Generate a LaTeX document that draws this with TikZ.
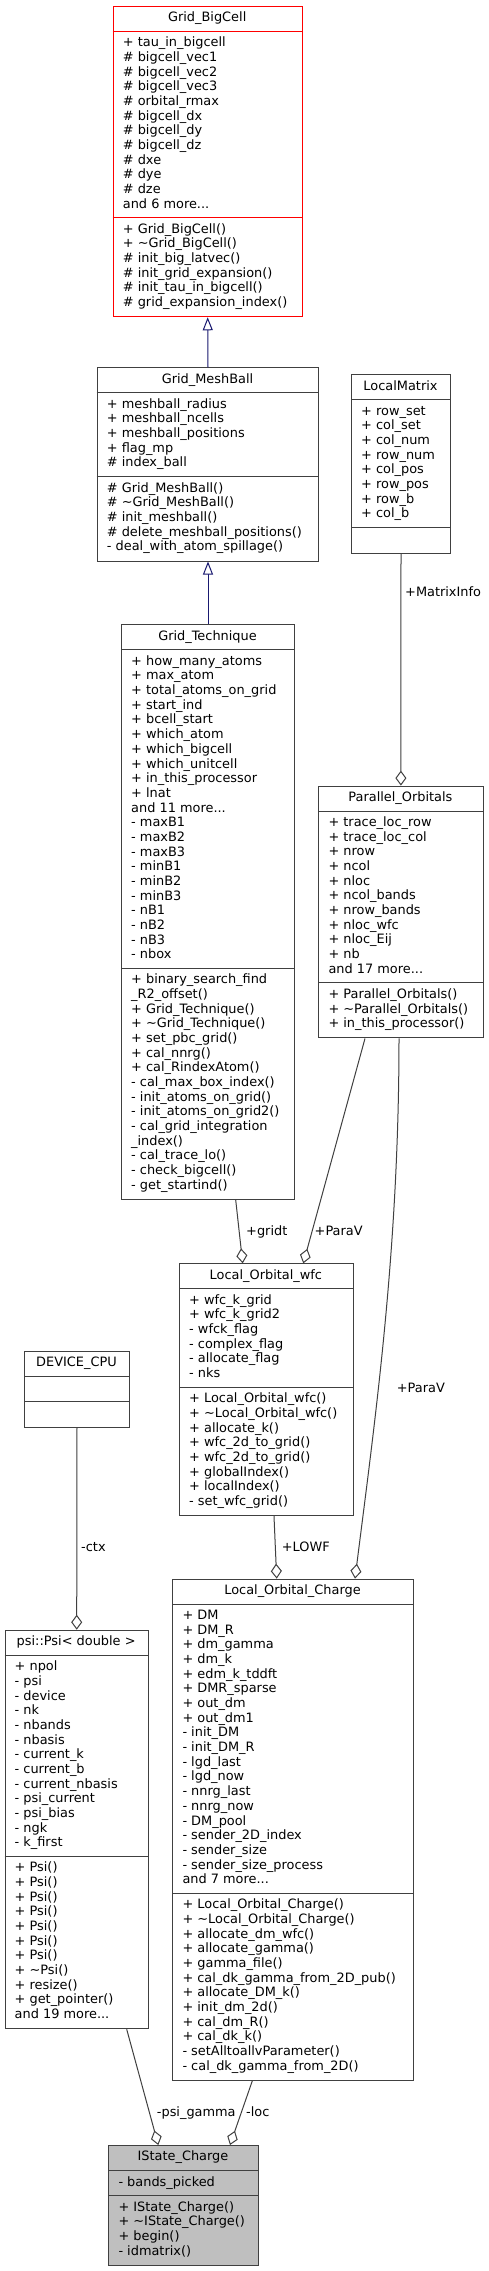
\documentclass[tikz,border=0pt]{standalone}
\usepackage{fontspec}
\setmainfont{DejaVu Sans}
\usetikzlibrary{arrows.meta,calc}
\definecolor{edgec}{HTML}{404040}
\definecolor{boxc}{HTML}{404040}
\definecolor{inhc}{HTML}{191970}
\definecolor{curfill}{HTML}{BFBFBF}
\definecolor{redc}{HTML}{FF0000}
\newcommand{\LH}{14.67}
\DeclareRobustCommand{\mdots}{.{}.{}.}
\tikzset{
  umlbox/.style={rectangle, inner sep=0pt, line width=1pt},
  umltxt/.style={inner sep=0pt, font=\fontsize{12.9}{14.67}\selectfont, text=black},
  elabel/.style={umltxt, anchor=base west},
  aggr/.style={draw=edgec, line width=1pt, -{Diamond[fill=white, length=15pt, width=11pt]}},
  inh/.style={draw=inhc, line width=1pt, -{Triangle[fill=white, length=13pt, width=10pt]}}
}
% #1 name, #2 draw colour, #3 fill, #4 left, #5 top, #6 width, #7 n attr, #8 n meth, #9 title
\newcommand{\umlclass}[9]{%
  \pgfmathsetmacro{\umlha}{max(#7,1)*\LH+10.5}%
  \pgfmathsetmacro{\umlhm}{max(#8,1)*\LH+10.5}%
  \pgfmathsetmacro{\umlht}{25.5+\umlha+\umlhm}%
  \node[umlbox, draw=#2, fill=#3, minimum width=#6, minimum height=\umlht, anchor=north west] (#1) at (#4,#5) {};
  \coordinate (#1-a) at (#4,#5+25.5);
  \coordinate (#1-m) at (#4,#5+25.5+\umlha);
  \draw[draw=#2, line width=1pt] (#1-a) -- ++(#6,0) (#1-m) -- ++(#6,0);
  \node[umltxt, anchor=base] (#1-title) at (#4+#6/2,#5+15.8) {#9};
}
\newcommand{\umllines}[2]{%
  \foreach \s [count=\k from 0] in {#2} {%
    \node[umltxt, anchor=base west] (#1-\k) at ($(#1)+(10,15.5+\k*\LH)$) {\s};
  }%
}
\begin{document}
\begin{tikzpicture}[x=1pt,y=-1pt]
\fill[white] (0,0) rectangle (489,2271);
\useasboundingbox (0,0) rectangle (489,2271);

\umlclass{bigcell}{redc}{white}{112.7}{5.7}{189}{12}{6}{Grid\_BigCell}
\umllines{bigcell-a}{+ tau\_in\_bigcell, \# bigcell\_vec1, \# bigcell\_vec2, \# bigcell\_vec3, \# orbital\_rmax, \# bigcell\_dx, \# bigcell\_dy, \# bigcell\_dz, \# dxe, \# dye, \# dze, and 6 more\mdots}
\umllines{bigcell-m}{+ Grid\_BigCell(), + \textasciitilde Grid\_BigCell(), \# init\_big\_latvec(), \# init\_grid\_expansion(), \# init\_tau\_in\_bigcell(), \# grid\_expansion\_index()}

\umlclass{mesh}{boxc}{white}{96.7}{367.3}{221.6}{5}{5}{Grid\_MeshBall}
\umllines{mesh-a}{+ meshball\_radius, + meshball\_ncells, + meshball\_positions, + flag\_mp, \# index\_ball}
\umllines{mesh-m}{\# Grid\_MeshBall(), \# \textasciitilde Grid\_MeshBall(), \# init\_meshball(), \# delete\_meshball\_positions(), - deal\_with\_atom\_spillage()}

\umlclass{lm}{boxc}{white}{351}{374.3}{99}{8}{0}{LocalMatrix}
\umllines{lm-a}{+ row\_set, + col\_set, + col\_num, + row\_num, + col\_pos, + row\_pos, + row\_b, + col\_b}

\umlclass{gt}{boxc}{white}{121}{624.3}{173}{21}{15}{Grid\_Technique}
\umllines{gt-a}{+ how\_many\_atoms, + max\_atom, + total\_atoms\_on\_grid, + start\_ind, + bcell\_start, + which\_atom, + which\_bigcell, + which\_unitcell, + in\_this\_processor, + lnat, and 11 more\mdots, - maxB1, - maxB2, - maxB3, - minB1, - minB2, - minB3, - nB1, - nB2, - nB3, - nbox}
\umllines{gt-m}{+ binary\_search\_find, \_R2\_offset(), + Grid\_Technique(), + \textasciitilde Grid\_Technique(), + set\_pbc\_grid(), + cal\_nnrg(), + cal\_RindexAtom(), - cal\_max\_box\_index(), - init\_atoms\_on\_grid(), - init\_atoms\_on\_grid2(), - cal\_grid\_integration, \_index(), - cal\_trace\_lo(), - check\_bigcell(), - get\_startind()}

\umlclass{po}{boxc}{white}{318.3}{785.6}{164.2}{11}{3}{Parallel\_Orbitals}
\umllines{po-a}{+ trace\_loc\_row, + trace\_loc\_col, + nrow, + ncol, + nloc, + ncol\_bands, + nrow\_bands, + nloc\_wfc, + nloc\_Eij, + nb, and 17 more\mdots}
\umllines{po-m}{+ Parallel\_Orbitals(), + \textasciitilde Parallel\_Orbitals(), + in\_this\_processor()}

\umlclass{lowf}{boxc}{white}{179}{1263.3}{173.7}{6}{8}{Local\_Orbital\_wfc}
\umllines{lowf-a}{+ wfc\_k\_grid, + wfc\_k\_grid2, - wfck\_flag, - complex\_flag, - allocate\_flag, - nks}
\umllines{lowf-m}{+ Local\_Orbital\_wfc(), + \textasciitilde Local\_Orbital\_wfc(), + allocate\_k(), + wfc\_2d\_to\_grid(), + wfc\_2d\_to\_grid(), + globalIndex(), + localIndex(), - set\_wfc\_grid()}

\umlclass{dev}{boxc}{white}{24.3}{1351}{104.4}{0}{0}{DEVICE\_CPU}

\umlclass{psi}{boxc}{white}{4.5}{1629.7}{143.3}{13}{11}{psi::Psi< double >}
\umllines{psi-a}{+ npol, - psi, - device, - nk, - nbands, - nbasis, - current\_k, - current\_b, - current\_nbasis, - psi\_current, - psi\_bias, - ngk, - k\_first}
\umllines{psi-m}{+ Psi(), + Psi(), + Psi(), + Psi(), + Psi(), + Psi(), + Psi(), + \textasciitilde Psi(), + resize(), + get\_pointer(), and 19 more\mdots}

\umlclass{loc}{boxc}{white}{172.3}{1578.6}{240.4}{19}{12}{Local\_Orbital\_Charge}
\umllines{loc-a}{+ DM, + DM\_R, + dm\_gamma, + dm\_k, + edm\_k\_tddft, + DMR\_sparse, + out\_dm, + out\_dm1, - init\_DM, - init\_DM\_R, - lgd\_last, - lgd\_now, - nnrg\_last, - nnrg\_now, - DM\_pool, - sender\_2D\_index, - sender\_size, - sender\_size\_process, and 7 more\mdots}
\umllines{loc-m}{+ Local\_Orbital\_Charge(), + \textasciitilde Local\_Orbital\_Charge(), + allocate\_dm\_wfc(), + allocate\_gamma(), + gamma\_file(), + cal\_dk\_gamma\_from\_2D\_pub(), + allocate\_DM\_k(), + init\_dm\_2d(), + cal\_dm\_R(), + cal\_dk\_k(), - setAlltoallvParameter(), - cal\_dk\_gamma\_from\_2D()}

\umlclass{istate}{boxc}{curfill}{108.3}{2145}{149.4}{1}{4}{IState\_Charge}
\umllines{istate-a}{- bands\_picked}
\umllines{istate-m}{+ IState\_Charge(), + \textasciitilde IState\_Charge(), + begin(), - idmatrix()}

% inheritance
\draw[inh] (mesh.north) -- (bigcell.south);
\draw[inh] (gt.north) -- (mesh.south);
% aggregation / usage
\draw[aggr] (lm.south) -- (po.north);
\draw[aggr] ([xshift=114.7]gt.south west) -- ([xshift=63.7]lowf.north west);
\draw[aggr] ([xshift=46.7]po.south west) -- ([xshift=124.3]lowf.north west);
\draw[aggr] ([xshift=80.7]po.south west) .. controls +(0,212.3) and +(20,-158.6) .. ([xshift=182.7]loc.north west);
\draw[aggr] ([xshift=95]lowf.south west) -- ([xshift=104.4]loc.north west);
\draw[aggr] (dev.south) -- ([xshift=72.2]psi.north west);
\draw[aggr] ([xshift=122.2]psi.south west) -- ([xshift=50]istate.north west);
\draw[aggr] ([xshift=80]loc.south west) -- ([xshift=121.7]istate.north west);

% edge labels
\node[elabel] (l-mi) at (405,596.2) {+MatrixInfo};
\node[elabel] (l-gridt) at (246,1235) {+gridt};
\node[elabel] (l-parav1) at (314.5,1235) {+ParaV};
\node[elabel] (l-parav2) at (396.7,1392.5) {+ParaV};
\node[elabel] (l-lowf) at (281.7,1551) {+LOWF};
\node[elabel] (l-ctx) at (81,1551.5) {-ctx};
\node[elabel] (l-psig) at (156.7,2116.5) {-psi\_gamma};
\node[elabel] (l-loc) at (246,2116.5) {-loc};
\end{tikzpicture}
\end{document}
